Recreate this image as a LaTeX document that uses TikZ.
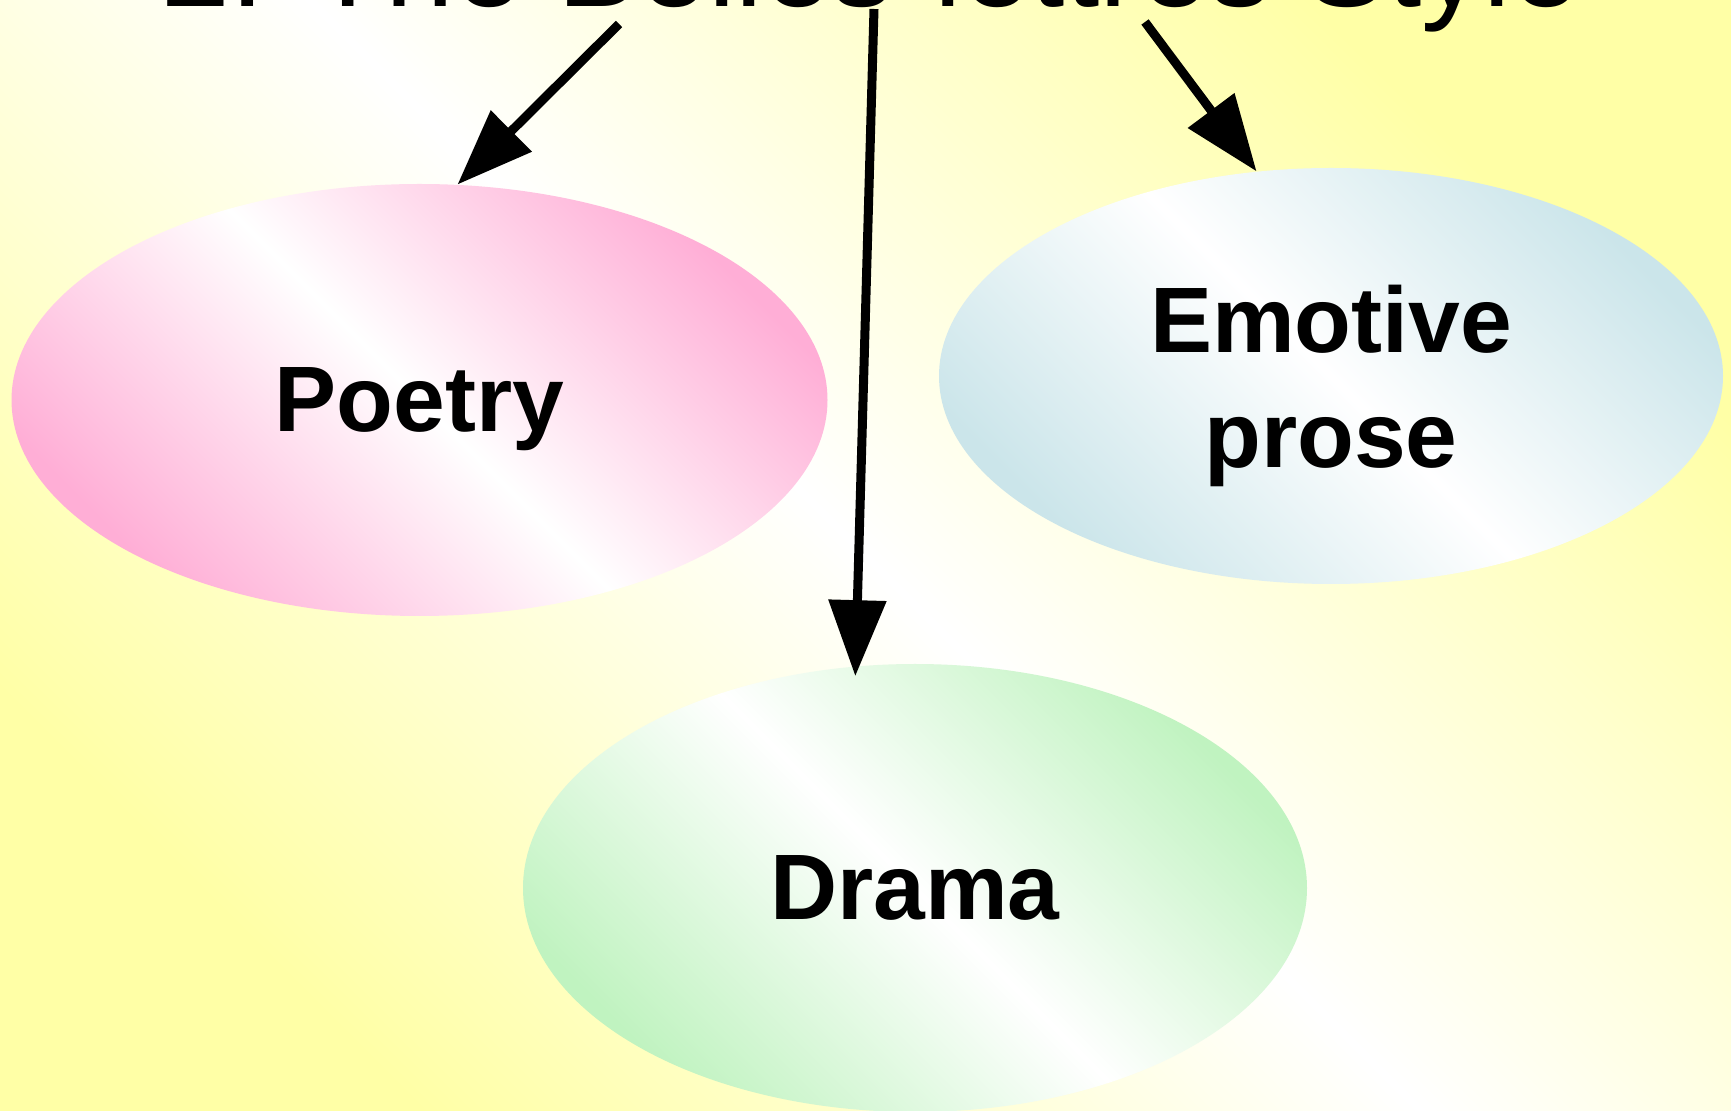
\documentclass[tikz,border=0pt]{standalone}
\usepackage{fontspec}
\setmainfont{Liberation Sans}
\usetikzlibrary{shapes.geometric,arrows.meta}
\definecolor{bgyellow}{HTML}{FFFFA6}
\definecolor{poetrypink}{HTML}{FFAED6}
\definecolor{proseblue}{HTML}{CBE5EA}
\definecolor{dramagreen}{HTML}{C0F3C0}
\tikzset{
  genre/.style={ellipse,inner sep=0pt,align=center,text depth=0pt,
    font=\fontsize{46.5}{57.5}\selectfont\bfseries,
    top color=#1,bottom color=#1,middle color=white,shading angle=-45},
  link/.style={-{Triangle[length=38pt,width=28pt]},line width=4.5pt}
}
\begin{document}
\begin{tikzpicture}[x=0.5pt,y=-0.5pt]
    \useasboundingbox (0,0) rectangle (1731,1111);
    \shade[top color=bgyellow,bottom color=bgyellow,middle color=white,shading angle=-45] (0,0) rectangle (1731,1111);
    \node[anchor=base west,inner sep=0pt,font=\fontsize{61.75}{70}\selectfont] (title) at (161,7) {2. The Belles-lettres Style};

    \node[genre=poetrypink,minimum width=408pt,minimum height=216pt] (poetry) at (419.5,400) {Poetry};
    \node[genre=proseblue,minimum width=392pt,minimum height=208pt] (prose) at (1331,376) {Emotive\\prose};
    \node[genre=dramagreen,minimum width=392pt,minimum height=224pt] (drama) at (915,888) {Drama};

    \coordinate (s1) at (619,24);
    \coordinate (s2) at (874,9);
    \coordinate (s3) at (1145,22);
    \draw[link] (s1) -- (poetry.80);
    \draw[link,shorten >=-5pt] (s2) -- (drama.105);
    \draw[link] (s3) -- (prose.110);
\end{tikzpicture}
\end{document}
